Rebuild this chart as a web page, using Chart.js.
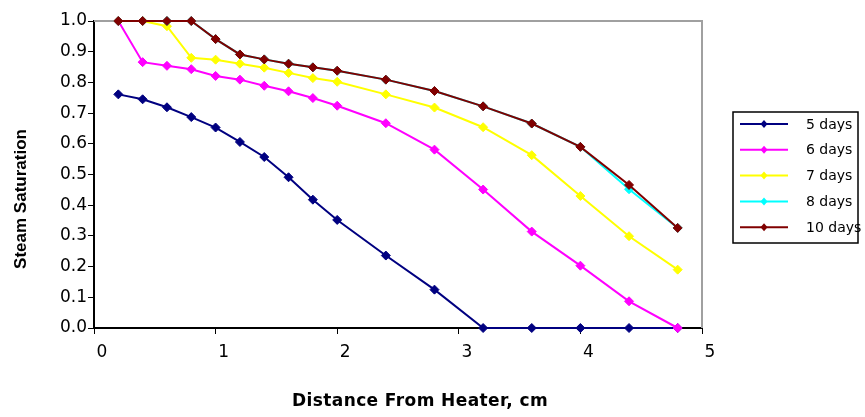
<!DOCTYPE html>
<html>
<head>
<meta charset="utf-8">
<script src="https://cdn.jsdelivr.net/npm/chart.js@4"></script>
<style>
  html, body { margin: 0; padding: 0; background: #fff; }
</style>
</head>
<body>
<canvas id="satChart" width="865" height="417"></canvas>
<script>
// distance from heater (cm) and steam saturation per heating time
const distances = [0.2, 0.4, 0.6, 0.8, 1.0, 1.2, 1.4, 1.6, 1.8, 2.0, 2.4, 2.8, 3.2, 3.6, 4.0, 4.4, 4.8];
const sat5 = [0.761, 0.745, 0.719, 0.687, 0.653, 0.606, 0.557, 0.491, 0.418, 0.352, 0.236, 0.125, 0, 0, 0, 0, 0];
const sat6 = [1.0, 0.866, 0.854, 0.843, 0.821, 0.809, 0.789, 0.771, 0.749, 0.724, 0.667, 0.581, 0.451, 0.314, 0.203, 0.087, 0];
const sat7 = [1.0, 1.0, 0.983, 0.88, 0.874, 0.861, 0.848, 0.831, 0.814, 0.802, 0.761, 0.718, 0.654, 0.563, 0.43, 0.299, 0.19];
const sat8 = [1.0, 1.0, 1.0, 1.0, 0.941, 0.891, 0.875, 0.861, 0.849, 0.838, 0.809, 0.772, 0.722, 0.666, 0.59, 0.452, 0.326];
const sat10 = [1.0, 1.0, 1.0, 1.0, 0.941, 0.891, 0.875, 0.861, 0.849, 0.838, 0.809, 0.772, 0.722, 0.666, 0.59, 0.466, 0.326];

const seriesNames = ["5 days", "6 days", "7 days", "8 days", "10 days"];
const seriesColors = ["#000080", "#ff00ff", "#ffff00", "#00ffff", "#800000"];
const seriesValues = [sat5, sat6, sat7, sat8, sat10];

const xTickValues = [0, 1, 2, 3, 4, 5];
const yTickValues = [0, 0.1, 0.2, 0.3, 0.4, 0.5, 0.6, 0.7, 0.8, 0.9, 1.0];

const xTitle = "Distance From Heater, cm";
const yTitle = "Steam Saturation";

const datasets = seriesNames.map((name, i) => ({
    label: name,
    data: distances.map((d, j) => ({ x: d, y: seriesValues[i][j] })),
    borderColor: seriesColors[i],
    backgroundColor: seriesColors[i],
    pointBorderColor: seriesColors[i],
    pointBackgroundColor: seriesColors[i],
    borderWidth: 2,
    pointStyle: "rectRot",
    pointRadius: 4.5,
    pointBorderWidth: 1,
    tension: 0,
    clip: false,
    order: seriesNames.length - i // later series on top, like the original
}));

// plot frame, boxed legend and axis titles
const decorations = {
    id: "decorations",
    beforeDatasetsDraw(chart) {
        const { ctx, chartArea } = chart;
        ctx.save();
        ctx.strokeStyle = "#a0a0a0";
        ctx.lineWidth = 2;
        ctx.beginPath();
        ctx.moveTo(chartArea.left, chartArea.top);
        ctx.lineTo(chartArea.right, chartArea.top);
        ctx.lineTo(chartArea.right, chartArea.bottom);
        ctx.stroke();
        ctx.restore();
    },
    afterDraw(chart) {
        const { ctx, chartArea } = chart;
        ctx.save();

        // legend
        const bx = chartArea.right + 31;
        const by = 112;
        ctx.strokeStyle = "#000";
        ctx.lineWidth = 1.5;
        ctx.strokeRect(bx, by, 125, 131);
        ctx.font = "14px 'DejaVu Sans'";
        ctx.textAlign = "left";
        ctx.textBaseline = "middle";
        chart.data.datasets.forEach((ds, i) => {
            const cy = by + 12 + i * 25.8;
            ctx.strokeStyle = ds.borderColor;
            ctx.lineWidth = 2;
            ctx.beginPath();
            ctx.moveTo(bx + 7, cy);
            ctx.lineTo(bx + 55, cy);
            ctx.stroke();
            ctx.fillStyle = ds.borderColor;
            ctx.beginPath();
            ctx.moveTo(bx + 31, cy - 4);
            ctx.lineTo(bx + 34.5, cy);
            ctx.lineTo(bx + 31, cy + 4);
            ctx.lineTo(bx + 27.5, cy);
            ctx.closePath();
            ctx.fill();
            ctx.fillStyle = "#000";
            ctx.fillText(ds.label, bx + 73, cy + 1);
        });

        // axis titles
        ctx.fillStyle = "#000";
        ctx.textAlign = "center";
        ctx.textBaseline = "middle";
        ctx.font = "bold 17px 'DejaVu Sans'";
        ctx.letterSpacing = "0.4px";
        ctx.fillText(xTitle, chartArea.left + 326, 402);
        ctx.letterSpacing = "0px";
        ctx.translate(21, 199);
        ctx.rotate(-Math.PI / 2);
        ctx.font = "bold 17px 'Liberation Sans'";
        ctx.fillText(yTitle, 0, 0);
        ctx.restore();
    }
};

new Chart(document.getElementById("satChart"), {
    type: "line",
    data: { datasets: datasets },
    options: {
        responsive: false,
        animation: false,
        devicePixelRatio: 1,
        layout: { padding: { left: 54, right: 163, top: 21, bottom: 49 } },
        plugins: {
            tooltip: { enabled: false },
            legend: { display: false }
        },
        scales: {
            x: {
                type: "linear",
                min: 0,
                max: 5,
                afterBuildTicks: axis => { axis.ticks = xTickValues.map(v => ({ value: v })); },
                afterFit: axis => { axis.height = 40; },
                grid: { drawOnChartArea: false, tickLength: 6, color: "#000", lineWidth: 1 },
                border: { color: "#000", width: 2 },
                ticks: {
                    color: "#000",
                    font: { family: "'DejaVu Sans'", size: 17 },
                    padding: 8,
                    labelOffset: 8,
                    maxRotation: 0,
                    callback: v => String(v)
                }
            },
            y: {
                type: "linear",
                min: 0,
                max: 1,
                afterBuildTicks: axis => { axis.ticks = yTickValues.map(v => ({ value: v })); },
                afterFit: axis => { axis.width = 40; },
                grid: { drawOnChartArea: false, tickLength: 6, color: "#000", lineWidth: 1 },
                border: { color: "#000", width: 2 },
                ticks: {
                    color: "#000",
                    font: { family: "'DejaVu Sans'", size: 17 },
                    padding: 1,
                    callback: v => v.toFixed(1)
                }
            }
        }
    },
    plugins: [decorations]
});
</script>
</body>
</html>
